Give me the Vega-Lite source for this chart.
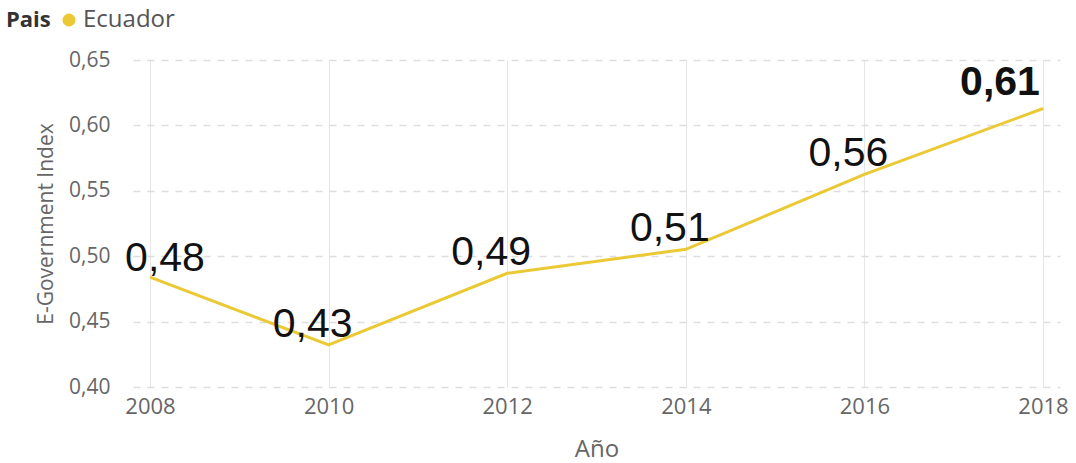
{
  "$schema": "https://vega.github.io/schema/vega-lite/v6.json",
  "width": 927,
  "height": 327,
  "autosize": "none",
  "padding": {"left": 133, "top": 60, "right": 16, "bottom": 76},
  "background": "white",
  "config": {
    "locale": {"number": {"decimal": ",", "thousands": ".", "grouping": [3], "currency": ["", "€"]}},
    "view": {"stroke": null},
    "font": "Open Sans"
  },
  "data": {
    "values": [
      {"Año": 2008, "EGDI": 0.484, "Pais": "Ecuador"},
      {"Año": 2010, "EGDI": 0.4322, "Pais": "Ecuador"},
      {"Año": 2012, "EGDI": 0.4869, "Pais": "Ecuador"},
      {"Año": 2014, "EGDI": 0.5053, "Pais": "Ecuador"},
      {"Año": 2016, "EGDI": 0.5625, "Pais": "Ecuador"},
      {"Año": 2018, "EGDI": 0.6129, "Pais": "Ecuador"}
    ]
  },
  "encoding": {
    "x": {
      "field": "Año", "type": "quantitative",
      "scale": {"domain": [2008, 2018], "nice": false, "zero": false, "padding": 17},
      "axis": {
        "title": "Año", "values": [2008, 2010, 2012, 2014, 2016, 2018], "format": "d",
        "grid": true, "gridColor": "#e6e6e6", "gridWidth": 1,
        "domain": false, "ticks": false,
        "labelFont": "Open Sans", "labelFontSize": 22, "labelColor": "#666666", "labelPadding": 9,
        "titleFont": "Open Sans", "titleFontSize": 24, "titleColor": "#666666", "titleFontWeight": "normal", "titlePadding": 20
      }
    },
    "y": {
      "field": "EGDI", "type": "quantitative",
      "scale": {"domain": [0.40, 0.65], "nice": false, "zero": false},
      "axis": {
        "title": "E-Government Index", "values": [0.40, 0.45, 0.50, 0.55, 0.60, 0.65], "format": ".2f",
        "grid": true, "gridColor": "#dddddd", "gridDash": [7, 7], "gridWidth": 1.5,
        "domain": false, "ticks": false,
        "labelFont": "Open Sans", "labelFontSize": 21, "labelColor": "#666666", "labelPadding": 23,
        "titleFont": "Open Sans", "titleFontSize": 21, "titleColor": "#666666", "titleFontWeight": "normal", "titlePadding": 12
      }
    }
  },
  "layer": [
    {
      "mark": {"type": "line", "strokeWidth": 3},
      "encoding": {
        "color": {
          "field": "Pais", "type": "nominal",
          "scale": {"range": ["#EBC934"]},
          "legend": {
            "orient": "none", "legendX": -127, "legendY": -52, "direction": "horizontal",
            "titleOrient": "left", "title": "Pais", "titleFont": "Open Sans", "titleFontSize": 22, "titleFontWeight": "bold", "titleColor": "#333333",
            "labelFont": "Open Sans", "labelFontSize": 24, "labelColor": "#555555",
            "symbolType": "circle", "symbolSize": 170, "symbolStrokeWidth": 0, "symbolFillColor": "#EBC934", "symbolOpacity": 1,
            "labelOffset": 2, "titlePadding": 6
          }
        }
      }
    },
    {
      "transform": [{"filter": "datum['Año'] == 2008"}],
      "mark": {"type": "text", "font": "Liberation Sans", "fontSize": 41, "color": "#111111", "dx": 15, "dy": -18, "baseline": "middle"},
      "encoding": {"text": {"field": "EGDI", "type": "quantitative", "format": ".2f"}}
    },
    {
      "transform": [{"filter": "datum['Año'] > 2008 && datum['Año'] < 2018"}],
      "mark": {"type": "text", "font": "Liberation Sans", "fontSize": 41, "color": "#111111", "dx": -16, "dy": -20, "baseline": "middle"},
      "encoding": {"text": {"field": "EGDI", "type": "quantitative", "format": ".2f"}}
    },
    {
      "transform": [{"filter": "datum['Año'] == 2018"}],
      "mark": {"type": "text", "font": "Liberation Sans", "fontSize": 41, "fontWeight": "bold", "color": "#111111", "dx": -43, "dy": -26, "baseline": "middle"},
      "encoding": {"text": {"field": "EGDI", "type": "quantitative", "format": ".2f"}}
    }
  ]
}
